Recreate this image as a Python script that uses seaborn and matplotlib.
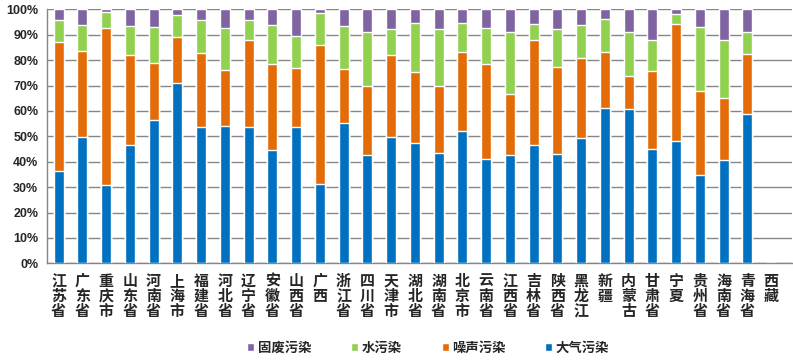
import pandas as pd
import matplotlib.pyplot as plt
import seaborn as sns
import numpy as np
from matplotlib.ticker import FixedLocator, PercentFormatter

# Data (percent share of each pollution type per province)
provinces = ['江苏省', '广东省', '重庆市', '山东省', '河南省', '上海市', '福建省', '河北省',
             '辽宁省', '安徽省', '山西省', '广西', '浙江省', '四川省', '天津市', '湖北省',
             '湖南省', '北京市', '云南省', '江西省', '吉林省', '陕西省', '黑龙江', '新疆',
             '内蒙古', '甘肃省', '宁夏', '贵州省', '海南省', '青海省', '西藏']

air = [36.4, 49.7, 30.8, 46.6, 56.4, 71.0, 53.7, 54.1, 53.7, 44.6, 53.7, 31.2, 55.2, 42.7, 49.7, 47.4,
       43.4, 52.1, 41.1, 42.7, 46.6, 43.0, 49.3, 61.2, 60.8, 45.0, 48.2, 34.8, 40.7, 58.8, 0]
noise = [50.7, 33.9, 61.9, 35.4, 22.5, 18.1, 29.1, 22.0, 34.2, 33.9, 23.2, 54.8, 21.3, 27.1, 32.3, 27.9,
         26.4, 31.1, 37.4, 24.0, 41.3, 34.3, 31.5, 22.0, 13.0, 30.7, 46.0, 33.0, 24.4, 23.6, 0]
water = [8.7, 10.2, 6.2, 11.4, 14.1, 8.7, 13.0, 16.6, 7.9, 15.3, 12.6, 12.6, 16.9, 21.3, 10.3, 19.3,
         22.5, 11.4, 14.2, 24.4, 6.3, 15.0, 13.0, 13.0, 17.3, 12.2, 4.0, 25.2, 22.8, 8.7, 0]
solid = [4.2, 6.2, 1.1, 6.6, 7.0, 2.2, 4.2, 7.3, 4.2, 6.2, 10.5, 1.4, 6.6, 8.9, 7.7, 5.4,
         7.7, 5.4, 7.3, 8.9, 5.8, 7.7, 6.2, 3.8, 8.9, 12.1, 1.8, 7.0, 12.1, 8.9, 0]

series = ['大气污染', '噪声污染', '水污染', '固废污染']
colors = {'大气污染': '#0070C0', '噪声污染': '#E36C09', '水污染': '#92D050', '固废污染': '#8064A2'}

df = pd.DataFrame({'省份': provinces, '大气污染': air, '噪声污染': noise,
                   '水污染': water, '固废污染': solid})
# cumulative tops so that bars can be overlaid from the top down
cum = df[series].cumsum(axis=1)
cum['省份'] = df['省份']

sns.set_style('white')
plt.rcParams['font.family'] = ['Noto Sans CJK SC', 'DejaVu Sans']

fig = plt.figure(figsize=(7.93, 3.6), dpi=100)
ax = fig.add_axes([0.0589, 0.2686, 0.9398, 0.7054])

for name in reversed(series):
    sns.barplot(data=cum, x='省份', y=name, color=colors[name], width=0.42,
                saturation=1, ax=ax, label=name, zorder=3)
if ax.get_legend() is not None:
    ax.get_legend().remove()

grid_c = '#868686'
ax.set_ylim(0, 100)
ax.set_xlim(-0.5, 30.88)
ax.set_yticks(np.arange(0, 101, 10))
ax.yaxis.set_major_formatter(PercentFormatter(decimals=0))
ax.grid(axis='y', color=grid_c, linewidth=1, zorder=0)
ax.grid(axis='x', visible=False)

for s in ['top', 'right']:
    ax.spines[s].set_visible(False)
for s in ['left', 'bottom']:
    ax.spines[s].set_color(grid_c)
    ax.spines[s].set_linewidth(1)

ax.set_xlabel('')
ax.set_ylabel('')
ax.set_xticks(range(len(provinces)))
ax.set_xticklabels(['\n'.join(p) for p in provinces], fontsize=10.8, fontweight='bold',
                   linespacing=0.93, va='top')
ax.xaxis.set_minor_locator(FixedLocator(np.arange(-0.5, 30, 1)))
ax.tick_params(axis='x', which='major', length=0, pad=7)
ax.tick_params(axis='x', which='minor', length=4, width=1, color=grid_c, direction='out')
ax.tick_params(axis='y', length=4, width=1, color=grid_c, direction='out', pad=2)
for t in ax.get_yticklabels():
    t.set_fontfamily('Liberation Sans')
    t.set_fontweight('bold')
    t.set_fontsize(9)

handles, labels = ax.get_legend_handles_labels()
lookup = dict(zip(labels, handles))
order = ['固废污染', '水污染', '噪声污染', '大气污染']
leg = fig.legend([lookup[k] for k in order], order, loc='center', ncol=4,
                 bbox_to_anchor=(0.540, 0.035), frameon=False, handlelength=0.53,
                 handleheight=0.53, handletextpad=0.25, columnspacing=3.0,
                 prop={'weight': 'bold', 'size': 9.6})

fig.savefig('out.png', dpi=100)
